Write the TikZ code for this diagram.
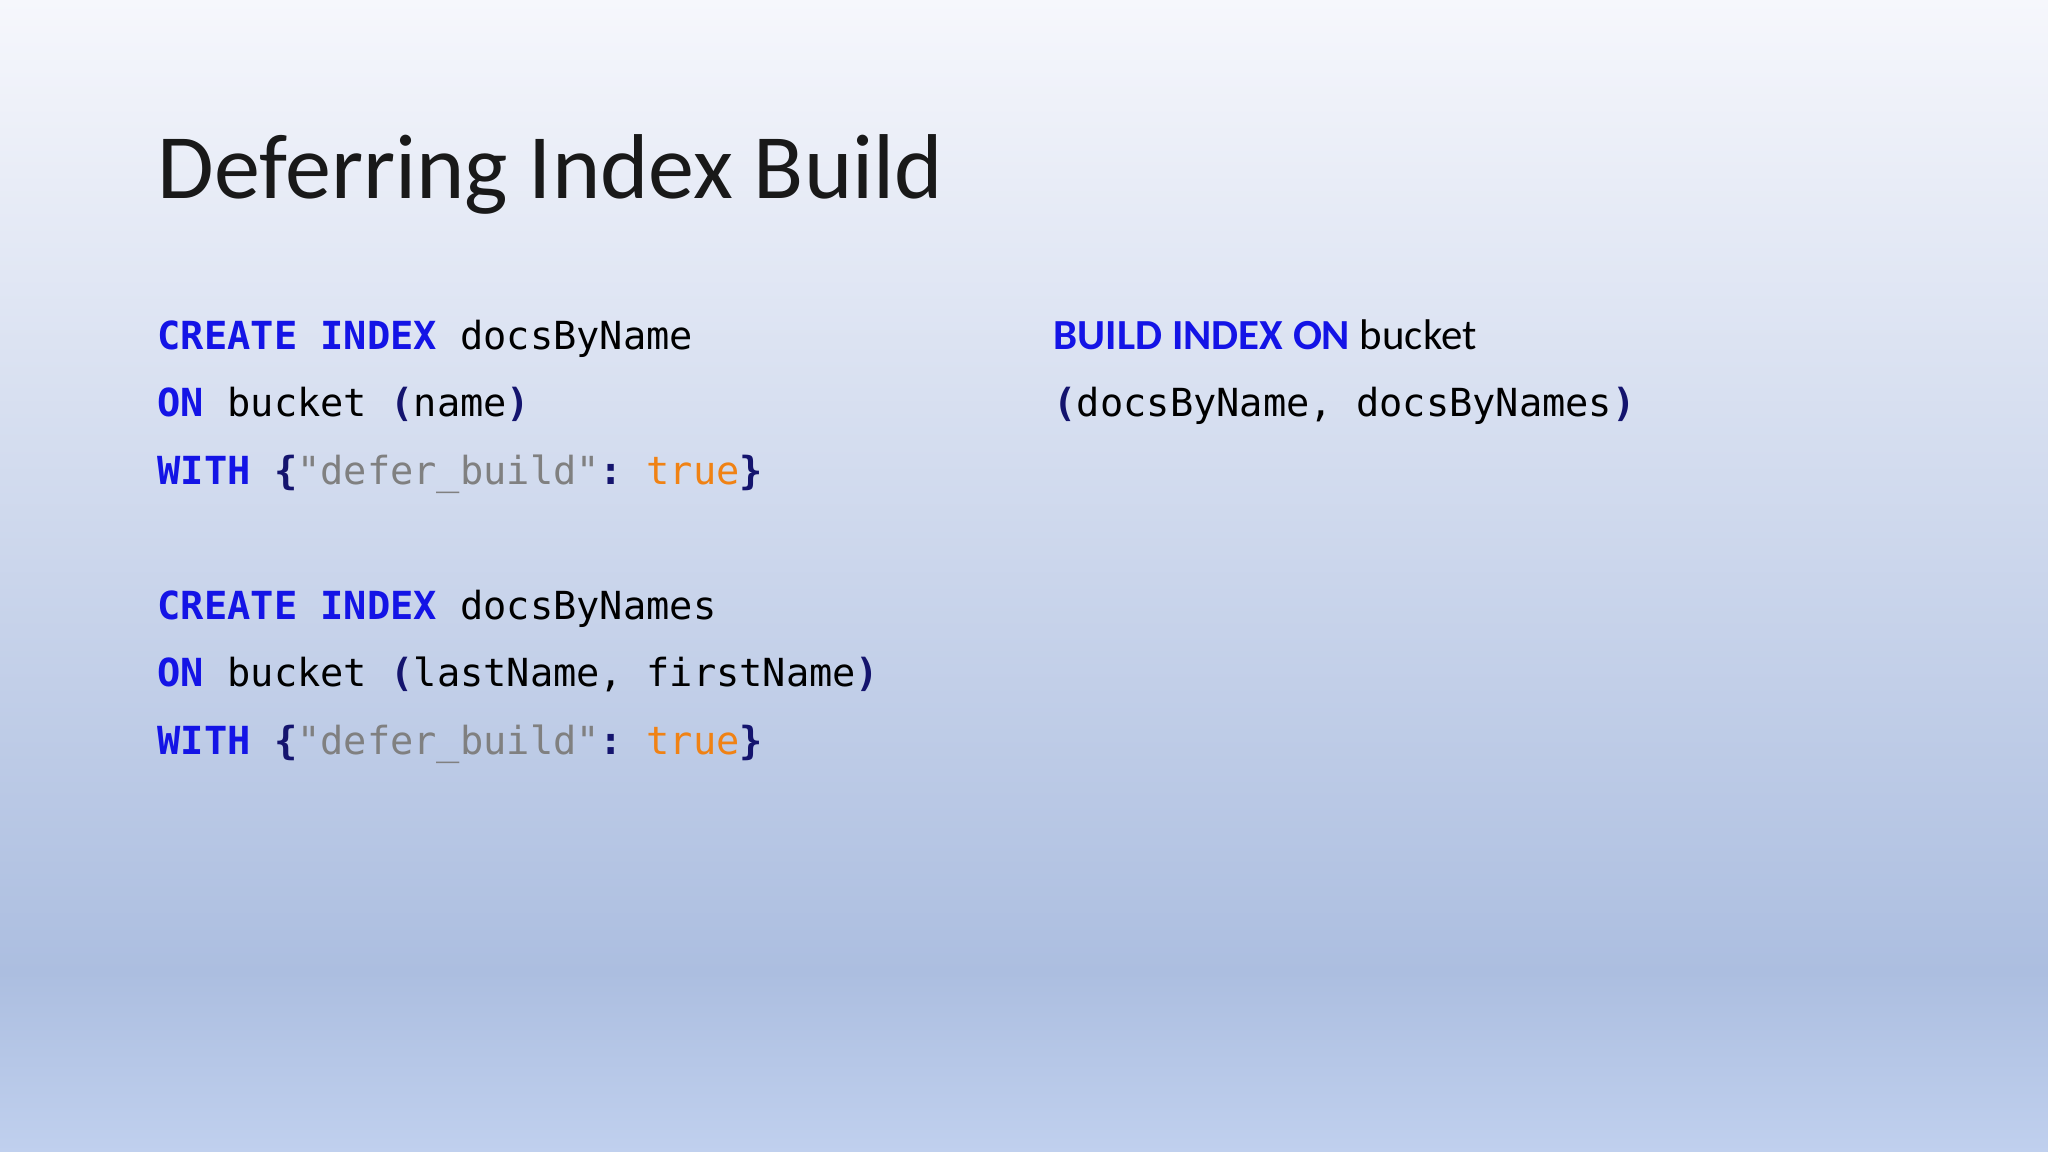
\documentclass[tikz,border=0pt]{standalone}
\usepackage{fontspec}
\setmainfont{Carlito}
\setmonofont{DejaVu Sans Mono}
\definecolor{kw}{RGB}{20,20,230}
\definecolor{pn}{RGB}{20,20,110}
\definecolor{st}{RGB}{128,128,128}
\definecolor{tr}{RGB}{240,130,20}
\definecolor{bgtop}{RGB}{246,247,252}
\definecolor{bgmid}{RGB}{172,190,224}
\definecolor{bgbot}{RGB}{192,208,238}
\newcommand{\kwd}[1]{\textcolor{kw}{\bfseries #1}}
\newcommand{\pnc}[1]{\textcolor{pn}{\bfseries #1}}
\begin{document}
\begin{tikzpicture}[x=1cm,y=1cm,
  code/.style={anchor=base west,inner sep=0pt,font=\fontsize{11}{13}\selectfont\ttfamily}]
\useasboundingbox (0,0) rectangle (20.48,11.52);
\shade[top color=bgmid,bottom color=bgbot] (0,0) rectangle (20.48,1.8);
\shade[top color=bgtop,bottom color=bgmid] (0,1.8) rectangle (20.48,11.52);
\node[anchor=base west,inner sep=0pt,font=\fontsize{26.2}{31}\selectfont,text=black!90] (title) at (1.57,9.535) {Deferring Index Build};
\node[code] (l1) at (1.57,8.02) {\kwd{CREATE INDEX} docsByName};
\node[code] (l2) at (1.57,7.354) {\kwd{ON} bucket \pnc{(}name\pnc{)}};
\node[code] (l3) at (1.57,6.675) {\kwd{WITH} \pnc{\{}\textcolor{st}{"defer\_build"}\pnc{:} \textcolor{tr}{true}\pnc{\}}};
\node[code] (l4) at (1.57,5.32) {\kwd{CREATE INDEX} docsByNames};
\node[code] (l5) at (1.57,4.65) {\kwd{ON} bucket \pnc{(}lastName, firstName\pnc{)}};
\node[code] (l6) at (1.57,3.97) {\kwd{WITH} \pnc{\{}\textcolor{st}{"defer\_build"}\pnc{:} \textcolor{tr}{true}\pnc{\}}};
\node[anchor=base west,inner sep=0pt,font=\fontsize{12.2}{15}\selectfont] (r1) at (10.53,8.02) {\textcolor{kw}{\bfseries BUILD INDEX ON} bucket};
\node[code] (r2) at (10.53,7.354) {\pnc{(}docsByName, docsByNames\pnc{)}};
\end{tikzpicture}
\end{document}
